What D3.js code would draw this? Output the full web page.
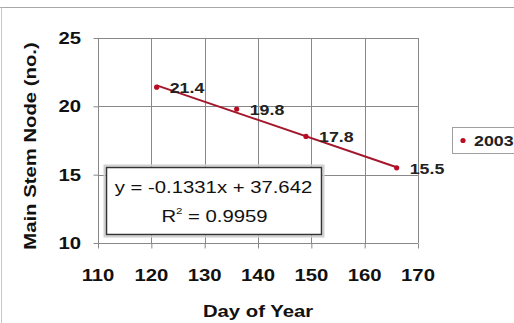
<!DOCTYPE html>
<html><head><meta charset="utf-8">
<script src="https://cdn.jsdelivr.net/npm/d3@7"></script>
<style>body{margin:0;background:#fff}svg{display:block;font-family:"Liberation Sans",Arial,sans-serif}</style>
</head><body>
<script>
const days = [121, 136, 149, 166];
const nodes = [21.4, 19.8, 17.8, 15.5];
const labels = ["21.4", "19.8", "17.8", "15.5"];
const xTicks = [110, 120, 130, 140, 150, 160, 170];
const yTicks = [10, 15, 20, 25];
const seriesName = "2003";
const slope = -0.1331, intercept = 37.642;
const eqLine1 = "y = -0.1331x + 37.642";
const eqLine2 = ["R", "2", " = 0.9959"];

const W = 514, H = 323, SX = 1.27;
const svg = d3.select("body").append("svg").attr("width", W).attr("height", H);
const x = d3.scaleLinear().domain([110, 170]).range([98, 418]);
const y = d3.scaleLinear().domain([10, 25]).range([243, 38]);

// chart border
svg.append("line").attr("x1", 0).attr("x2", W).attr("y1", 7.5).attr("y2", 7.5).attr("stroke", "#a8a8a8");
svg.append("line").attr("x1", 1.5).attr("x2", 1.5).attr("y1", 7.5).attr("y2", H).attr("stroke", "#c8c8c8");

function txt(g, t, px, py, opts) {
  const e = g.append("text").attr("transform", `translate(${px},${py})${opts.rot ? " rotate(-90)" : ""} scale(${SX},1)`)
    .attr("text-anchor", opts.anchor || "start").attr("font-size", opts.size || 14)
    .attr("font-weight", opts.bold ? "bold" : "normal").attr("fill", opts.fill || "#111");
  if (t !== null) e.text(t);
  return e;
}

// gridlines
const grid = svg.append("g").attr("stroke", "#888").attr("stroke-width", 1);
xTicks.forEach(v => grid.append("line").attr("x1", Math.round(x(v)) + .5).attr("x2", Math.round(x(v)) + .5).attr("y1", y(25)).attr("y2", y(10)));
yTicks.forEach(v => grid.append("line").attr("x1", x(110)).attr("x2", x(170)).attr("y1", Math.round(y(v)) + .5).attr("y2", Math.round(y(v)) + .5));

// axes
const xa = svg.append("g").attr("transform", `translate(0,${Math.round(y(10)) + .5})`)
  .call(d3.axisBottom(x).tickValues(xTicks).tickSize(5).tickFormat(""));
const ya = svg.append("g").attr("transform", `translate(${Math.round(x(110)) + .5},0)`)
  .call(d3.axisLeft(y).tickValues(yTicks).tickSize(5).tickFormat(""));
[xa, ya].forEach(a => { a.selectAll("path,line").attr("stroke", "#888"); a.select(".domain").remove(); });

xTicks.forEach(v => txt(svg, v, x(v), 281, { anchor: "middle", size: 16, bold: true }));
yTicks.forEach(v => txt(svg, v, 81, y(v) + 6, { anchor: "end", size: 16, bold: true }));

txt(svg, "Day of Year", 258, 317, { anchor: "middle", size: 16, bold: true });
txt(svg, "Main Stem Node (no.)", 36, 146, { anchor: "middle", size: 16, bold: true, rot: true });

// trendline
const x0 = days[0], x1 = days[days.length - 1];
svg.append("line").attr("x1", x(x0)).attr("y1", y(slope * x0 + intercept))
  .attr("x2", x(x1)).attr("y2", y(slope * x1 + intercept))
  .attr("stroke", "#a3172c").attr("stroke-width", 2);

// markers
svg.selectAll("circle.pt").data(days).enter().append("circle").attr("class", "pt")
  .attr("cx", d => x(d)).attr("cy", (d, i) => y(nodes[i])).attr("r", 2.6).attr("fill", "#b80c24");

// data labels
days.forEach((d, i) => txt(svg, labels[i], x(d) + 13, y(nodes[i]) + 6, { size: 14, bold: true, fill: "#222" }));

// equation box
svg.append("rect").attr("x", 104.5).attr("y", 165.5).attr("width", 219).attr("height", 71).attr("fill", "none").attr("stroke", "#d0d0d0").attr("stroke-width", 2);
svg.append("rect").attr("x", 106.5).attr("y", 167.5).attr("width", 215).attr("height", 67).attr("fill", "#fff").attr("stroke", "#333").attr("stroke-width", 1.5);
txt(svg, eqLine1, 213.5, 193, { anchor: "middle", size: 16 });
const r2 = txt(svg, null, 214.5, 222, { anchor: "middle", size: 16 });
r2.append("tspan").text(eqLine2[0]);
r2.append("tspan").attr("dy", -8).attr("font-size", 9).text(eqLine2[1]);
r2.append("tspan").attr("dy", 8).text(eqLine2[2]);

// legend
svg.append("rect").attr("x", 452.5).attr("y", 127.5).attr("width", 70).attr("height", 26).attr("fill", "#fff").attr("stroke", "#a0a0a0");
svg.append("circle").attr("cx", 463).attr("cy", 140.5).attr("r", 2.6).attr("fill", "#b80c24");
txt(svg, seriesName, 474, 146, { size: 14, bold: true, fill: "#222" });
</script>
</body></html>
